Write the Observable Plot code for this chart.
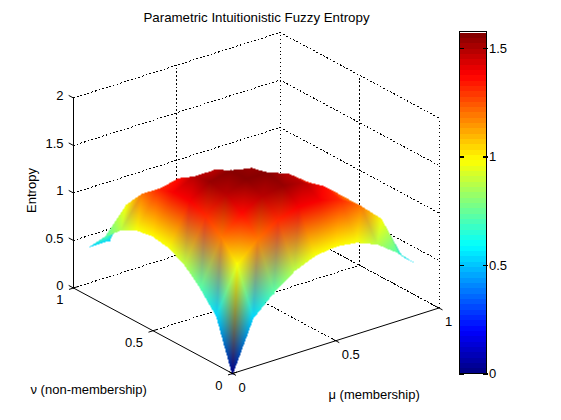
<!DOCTYPE html>
<html><head><meta charset="utf-8">
<style>html,body{margin:0;padding:0;background:#fff}svg{display:block}</style>
<script src="https://cdn.jsdelivr.net/npm/d3@7"></script>
<script src="https://cdn.jsdelivr.net/npm/@observablehq/plot@0.6"></script>
</head><body><div id="chart"></div>
<script>
// Entropy read from the surface: rows are mu = 0, 0.1, ... 0.9; columns nu = 0, 0.1, ...
const gridStep = 0.1;
const row0 = [0, 0.52, 0.722, 0.881, 0.971, 1.0, 0.971, 0.881, 0.722, 0.52];
const row1 = [0.52, 0.98, 1.184, 1.323, 1.389, 1.389, 1.323, 1.185, 0.98, 0.52];
const row2 = [0.722, 1.184, 1.371, 1.485, 1.522, 1.485, 1.371, 1.185, 0.722];
const row3 = [0.881, 1.323, 1.485, 1.571, 1.571, 1.485, 1.323, 0.881];
const row4 = [0.971, 1.389, 1.522, 1.571, 1.522, 1.389, 0.971];
const row5 = [1.0, 1.389, 1.485, 1.485, 1.389, 1.0];
const row6 = [0.971, 1.323, 1.371, 1.323, 0.971];
const row7 = [0.881, 1.185, 1.185, 0.881];
const row8 = [0.722, 0.98, 0.722];
const row9 = [0.52, 0.52];
const rows = [row0,row1,row2,row3,row4,row5,row6,row7,row8,row9];
const axisTicks = [0, 0.5, 1];
const zTicks = [0, 0.5, 1, 1.5, 2];
const barTicks = [0, 0.5, 1, 1.5];
const colorMax = 1.571;
const titleText = "Parametric Intuitionistic Fuzzy Entropy";

// orthographic view of the 3-D box
const project = (m, n, z) => [232 + 206.5*m - 159*n, 373 - 65.5*m - 85.5*n - 95*z];
const P = (m,n,z) => { const [x,y] = project(m,n,z); return {x,y}; };

// MATLAB jet, 64 levels
function jet(t){
  const c = v => Math.max(0, Math.min(1, v));
  return [c(1.5-Math.abs(4*t-3)), c(1.5-Math.abs(4*t-2)), c(1.5-Math.abs(4*t-1))];
}
const level = v => Math.min(63, Math.floor(v/colorMax*64));
const levelRGB = l => jet((l+0.5)/64);
const css = c => `rgb(${c.map(v=>Math.round(v*255)).join(",")})`;

// Surface: quads split on the near-far diagonal, vertex colours blended in RGB (interp shading).
const vert = (i,j) => { const e=rows[i][j]; return {...P(i*gridStep,j*gridStep,e), c:levelRGB(level(e))}; };
const cells = [];
rows.forEach((r,i)=>r.forEach((_,j)=>{ if(i+j<=8) cells.push([i,j]); }));
cells.sort((a,b)=>(a[0]+a[1])-(b[0]+b[1])); // nearest first
const tris = [];
for (const [i,j] of cells){
  const A=vert(i,j),B=vert(i+1,j),C=vert(i+1,j+1),D=vert(i,j+1);
  tris.push([A,B,C],[A,C,D]);
}
function surfaceColor(x,y){
  for (const [a,b,c] of tris){
    const d=(b.y-c.y)*(a.x-c.x)+(c.x-b.x)*(a.y-c.y);
    const u=((b.y-c.y)*(x-c.x)+(c.x-b.x)*(y-c.y))/d;
    const v=((c.y-a.y)*(x-c.x)+(a.x-c.x)*(y-c.y))/d;
    const w=1-u-v;
    if (u>=-0.02 && v>=-0.02 && w>=-0.02) return css([0,1,2].map(q=>Math.max(0,Math.min(1,u*a.c[q]+v*b.c[q]+w*c.c[q]))));
  }
  return null;
}

// Axes
const seg = (a,b,key) => [{...P(...a),key},{...P(...b),key}];
const dotted = [];
zTicks.forEach(z=>{
  dotted.push(...seg([0,1,z],[1,1,z],"zn"+z));
  dotted.push(...seg([1,1,z],[1,0,z],"zm"+z));
});
axisTicks.forEach(t=>{
  if (t>0) dotted.push(...seg([t,1,0],[t,1,2],"wm"+t));
  if (t<1) dotted.push(...seg([1,t,0],[1,t,2],"wn"+t));
  if (t>0) dotted.push(...seg([t,0,0],[t,1,0],"fm"+t));
  if (t>0) dotted.push(...seg([0,t,0],[1,t,0],"fn"+t));
});
const solid = [
  ...seg([0,0,0],[1,0,0],"a"), ...seg([0,0,0],[0,1,0],"b"), ...seg([0,1,0],[0,1,2],"c")
];
zTicks.forEach(z=>solid.push(...seg([0,1,z],[0,1.028,z],"tz"+z)));
axisTicks.forEach(t=>{
  solid.push(...seg([t,-0.02,0],[t,0.02,0],"tm"+t));
  solid.push(...seg([-0.02,t,0],[0.02,t,0],"tn"+t));
});

// Colorbar
const barX1=459.5, barX2=486.5, barY=v=>373.5-217*v;
const levels = d3.range(64);
const barRects = levels.map(l=>({x1:barX1,x2:barX2,y1:barY(l/64*colorMax),y2:barY((l+1)/64*colorMax),c:css(levelRGB(l))}));
const barLines = [];
barTicks.forEach(v=>{
  barLines.push({x:barX1,y:barY(v),key:"l"+v},{x:barX1+3,y:barY(v),key:"l"+v});
  barLines.push({x:barX2-3,y:barY(v),key:"r"+v},{x:barX2,y:barY(v),key:"r"+v});
});

const font = {fontFamily:"Liberation Sans, Arial, sans-serif", fontSize:13, fill:"#000"};
const zLabels = zTicks.map(z=>({...P(0,1,z),t:String(z)}));
const nLabels = axisTicks.map(t=>({...P(0,t,0),t:String(t)}));
const mLabels = axisTicks.map(t=>({...P(t,0,0),t:String(t)}));
const barLabels = barTicks.map(v=>({x:barX2+2,y:barY(v),t:String(v)}));

const chart = Plot.plot({
  width:561, height:420, margin:0,
  x:{domain:[0,561],range:[0,561],axis:null},
  y:{domain:[0,420],range:[0,420],axis:null},
  color:{type:"identity"},
  style:{background:"#fff"},
  marks:[
    Plot.line(dotted,{x:"x",y:"y",z:"key",stroke:"#000",strokeWidth:1,strokeDasharray:"1 2.8",shapeRendering:"crispEdges"}),
    Plot.raster({fill:surfaceColor,x1:0,x2:561,y1:0,y2:420,pixelSize:1}),
    Plot.line(solid,{x:"x",y:"y",z:"key",stroke:"#000",strokeWidth:1}),
    Plot.rect(barRects,{x1:"x1",x2:"x2",y1:"y1",y2:"y2",fill:"c",shapeRendering:"crispEdges"}),
    Plot.rect([{x1:barX1,x2:barX2,y1:barY(colorMax)-1,y2:barY(0)}],{x1:"x1",x2:"x2",y1:"y1",y2:"y2",fill:"none",stroke:"#000",shapeRendering:"crispEdges"}),
    Plot.line(barLines,{x:"x",y:"y",z:"key",stroke:"#000",shapeRendering:"crispEdges"}),
    Plot.text(zLabels,{x:"x",y:"y",text:"t",dx:-10,dy:-2,textAnchor:"end",...font}),
    Plot.text(nLabels,{x:"x",y:"y",text:"t",textAnchor:"end",dx:-10,dy:12,...font}),
    Plot.text(mLabels,{x:"x",y:"y",text:"t",textAnchor:"start",dx:6,dy:14,...font}),
    Plot.text(barLabels,{x:"x",y:"y",text:"t",textAnchor:"start",...font}),
    Plot.text([titleText],{x:256,y:17,text:d=>d,...font,fontSize:13.3}),
    Plot.text(["Entropy"],{x:31,y:190,text:d=>d,rotate:-90,...font}),
    Plot.text(["\u03bd (non-membership)"],{x:30,y:389,text:d=>d,textAnchor:"start",...font}),
    Plot.text(["\u03bc (membership)"],{x:328,y:394,text:d=>d,textAnchor:"start",...font})
  ]
});
document.getElementById("chart").appendChild(chart);
</script></body></html>
